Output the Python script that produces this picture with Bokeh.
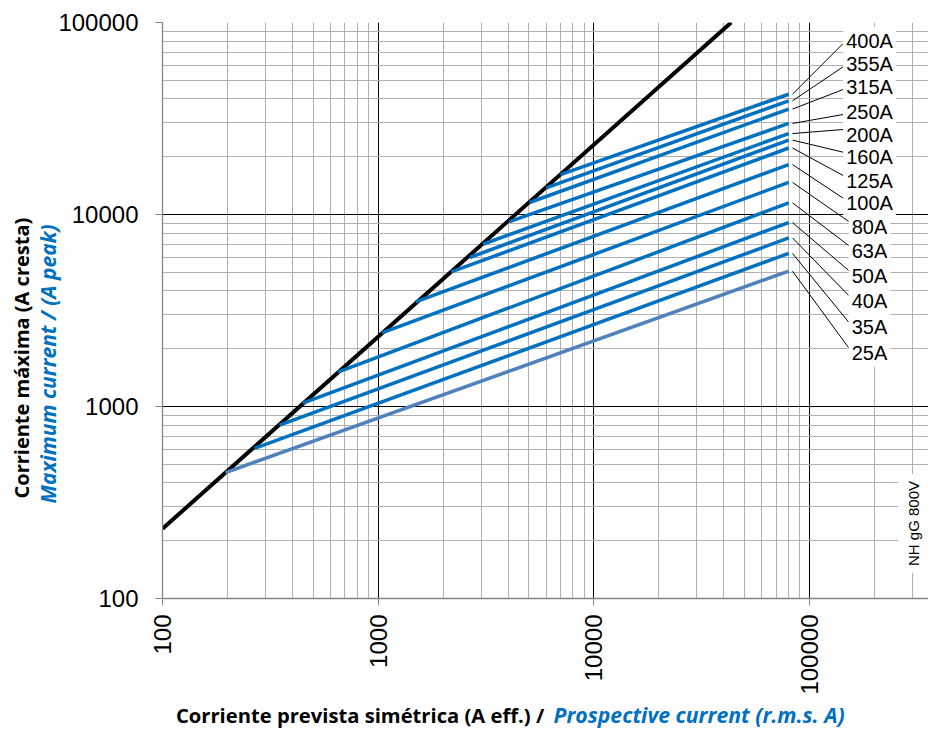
import math
from bokeh.plotting import figure
from bokeh.layouts import column
from bokeh.models import FixedTicker, Label, Title
from bokeh.embed import file_html
from bokeh.resources import INLINE

# ---------------- data ----------------
ratings = ["400A", "355A", "315A", "250A", "200A", "160A", "125A",
           "100A", "80A", "63A", "50A", "40A", "35A", "25A"]
start_x = [7000, 6010, 5030, 4060, 3060, 2660, 2180, 1490, 1040, 650, 447, 349, 267, 196]
start_y = [16150, 13760, 11550, 9190, 7000, 5970, 5020, 3510, 2420, 1510, 1040, 800, 605, 453]
end_x = 80000
end_y = [42300, 39100, 35400, 29800, 26400, 24400, 22200, 18200, 14700, 11500, 9080, 7550, 6270, 5070]
limit_x = [100, 43300]
limit_y = [231, 100000]
x_ticks = [100, 1000, 10000, 100000]
x_tick_labels = ["100", "1000", "10000", "100000"]
y_ticks = [100, 1000, 10000, 100000]
y_tick_labels = ["100", "1000", "10000", "100000"]
y_title_es = "Corriente máxima (A cresta)"
y_title_en = "Maximum current / (A peak)"
x_title_es = "Corriente prevista simétrica (A eff.) / "
x_title_en = "Prospective current (r.m.s. A)"
note_text = "NH gG 800V"

# ---------------- layout ----------------
W, H = 928, 698
HT = 31                            # height of the x-title strip
FL, FT, FB = 162, 22, 100          # frame borders (px)
PPD_X = 215.7                      # px per decade, x
PPD_Y = (H - FT - FB) / 3.0        # px per decade, y
x_end = 10 ** (2 + (W - FL) / PPD_X)
F_BOTTOM = H - FB

def xd(px):
    return 10 ** (2 + (px - FL) / PPD_X)

def yd(py):
    return 10 ** (2 + (F_BOTTOM - py) / PPD_Y)

BLUE = "#0070C0"
BLUE_25 = "#4F81BD"
TF = "Open Sans"

p = figure(width=W, height=H, x_axis_type="log", y_axis_type="log",
           x_range=(100, x_end), y_range=(100, 100000),
           output_backend="svg", toolbar_location=None,
           min_border_left=FL, min_border_top=FT, min_border_bottom=FB,
           min_border_right=0)
p.outline_line_color = None
p.background_fill_color = "white"
p.border_fill_color = "white"

x_minor = [m * 10 ** k for k in range(2, 6) for m in range(2, 10) if m * 10 ** k < x_end]
y_minor = [m * 10 ** k for k in range(2, 5) for m in range(2, 10)]

p.xgrid.ticker = FixedTicker(ticks=x_ticks, minor_ticks=x_minor)
p.ygrid.ticker = FixedTicker(ticks=y_ticks, minor_ticks=y_minor)
for g in (p.xgrid, p.ygrid):
    g.grid_line_color = "black"
    g.grid_line_width = 1
    g.minor_grid_line_color = "#B0B0B0"
    g.minor_grid_line_width = 1

p.xaxis.ticker = FixedTicker(ticks=x_ticks, minor_ticks=[])
p.yaxis.ticker = FixedTicker(ticks=y_ticks, minor_ticks=[])
p.xaxis.major_label_overrides = dict(zip(x_ticks, x_tick_labels))
p.yaxis.major_label_overrides = dict(zip(y_ticks, y_tick_labels))
p.xaxis.major_label_orientation = math.pi / 2
for ax in (p.xaxis, p.yaxis):
    ax.axis_line_color = "#868686"
    ax.axis_line_width = 1.3
    ax.major_tick_line_color = "#868686"
    ax.major_tick_out = 7
    ax.major_tick_in = 0
    ax.minor_tick_line_color = None
    ax.major_label_text_font = "Liberation Sans"
    ax.major_label_text_font_size = "24px"
    ax.major_label_text_color = "black"
p.xaxis.major_label_standoff = 9
p.yaxis.major_label_standoff = 17

# y-axis titles (side panels, so they are not clipped)
p.add_layout(Title(text=y_title_en, align="left", offset=95, standoff=-12,
                   text_font=TF, text_font_size="21px", text_font_style="bold italic",
                   text_color=BLUE), "left")
p.add_layout(Title(text=y_title_es, align="left", offset=100, standoff=6,
                   text_font=TF, text_font_size="20px", text_font_style="bold",
                   text_color="black"), "left")

# limit (cut-off) line
p.line(limit_x, limit_y, line_color="black", line_width=4)

# rating lines
for i, r in enumerate(ratings):
    col = BLUE_25 if r == "25A" else BLUE
    p.line([start_x[i], end_x], [start_y[i], end_y[i]], line_color=col, line_width=3.5)

# label layout (px)
label_cx = 869
label_py = [40, 63.3, 86, 111, 134, 156.7, 180, 202.7, 226, 250, 275, 300, 326.7, 352.3]
leader_x0 = xd(792)
lx0, ly0, lx1, ly1 = [], [], [], []
for i, r in enumerate(ratings):
    wtxt = (0.556 * (len(r) - 1) + 0.667) * 20
    ex = label_cx - wtxt / 2 - 3
    line_py = F_BOTTOM - (math.log10(end_y[i]) - 2) * PPD_Y
    off = 3 if label_py[i] < line_py else -5
    lx0.append(leader_x0); ly0.append(end_y[i])
    lx1.append(xd(ex)); ly1.append(yd(label_py[i] + off))
p.segment(lx0, ly0, lx1, ly1, line_color="black", line_width=1)

for i, r in enumerate(ratings):
    p.add_layout(Label(x=xd(label_cx), y=yd(label_py[i]), text=r,
                       text_align="center", text_baseline="middle",
                       text_font="Liberation Sans", text_font_size="20px",
                       text_color="black", background_fill_color="white",
                       background_fill_alpha=1.0, padding=3))

p.add_layout(Label(x=xd(913), y=yd(523), text=note_text, angle=math.pi / 2,
                   text_align="center", text_baseline="middle",
                   text_font="Liberation Sans", text_font_size="15px",
                   text_color="black", background_fill_color="white",
                   background_fill_alpha=1.0, padding=7))

# x-axis title strip (its frame is aligned with the main frame: FL..W)
t = figure(width=W, height=HT, x_range=(FL, W), y_range=(0, HT),
           output_backend="svg", toolbar_location=None,
           x_axis_location=None, y_axis_location=None, min_border=0)
t.outline_line_color = None
t.xgrid.visible = False
t.ygrid.visible = False
TY = HT - (714 - H)
t.add_layout(Label(x=549, y=TY, text=x_title_es,
                   text_align="right", text_baseline="middle",
                   text_font=TF, text_font_size="20.2px", text_font_style="bold",
                   text_color="black"))
t.add_layout(Label(x=553, y=TY, text=x_title_en,
                   text_align="left", text_baseline="middle",
                   text_font=TF, text_font_size="21.2px", text_font_style="bold italic",
                   text_color=BLUE))

layout = column(p, t, spacing=0)
open("out.html", "w").write(file_html(layout, INLINE))
